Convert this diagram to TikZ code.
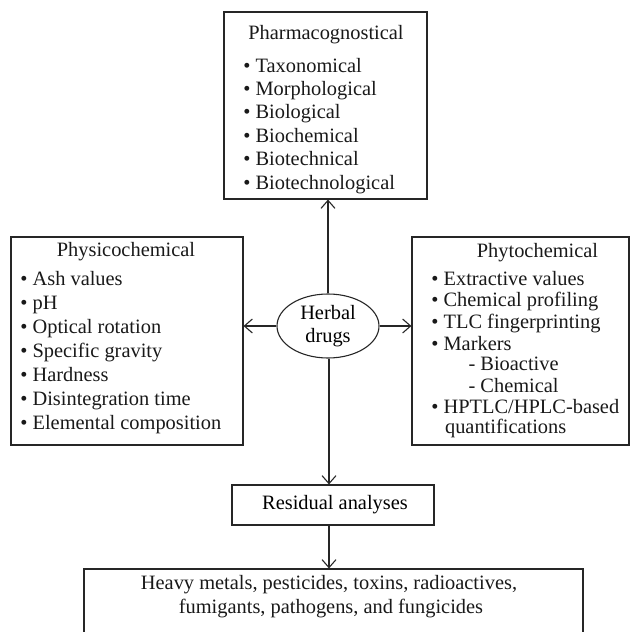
\documentclass[tikz,border=0pt]{standalone}
\usepackage{fontspec}
\setmainfont{Liberation Serif}
\usetikzlibrary{arrows.meta,shapes.geometric}
\begin{document}
\begin{tikzpicture}[x=1pt,y=-1pt,line width=1.1pt,
  boxshape/.style={draw=black!85,rectangle,inner sep=0pt},
  txt/.style={font=\fontsize{20.4}{23}\selectfont,inner sep=0pt,anchor=base west,text=black!90},
  ttl/.style={font=\fontsize{20.4}{23}\selectfont,inner sep=0pt,anchor=base,text=black!90},
  conn/.style={draw=black!85,-{Straight Barb[length=8pt,width=14pt]}}]
\useasboundingbox (0,0) rectangle (638,632);
% boxes
\node[boxshape,minimum width=203pt,minimum height=187pt] (T) at (325.5,105.5) {};
\node[boxshape,minimum width=232pt,minimum height=208pt] (L) at (127,341) {};
\node[boxshape,minimum width=217pt,minimum height=208pt] (R) at (520.5,341) {};
\node[draw=black!85,ellipse,inner sep=0pt,minimum width=102pt,minimum height=64pt,
  align=center,font=\fontsize{20.4}{23}\selectfont] (H) at (328,326) {Herbal\\drugs};
\node[boxshape,minimum width=202pt,minimum height=40pt,
  font=\fontsize{20.4}{23}\selectfont] (Res) at (333,505) {\hspace{4pt}Residual analyses};
\node[boxshape,minimum width=499pt,minimum height=80pt] (B) at (333.5,609) {};
% top box text
\node[ttl] (Tt) at (326,39) {Pharmacognostical};
\foreach \t [count=\i] in {Taxonomical,Morphological,Biological,Biochemical,Biotechnical,Biotechnological}
  \node[txt] (T\i) at (242.8,{72+23.4*(\i-1)}) {\textbullet\ \t};
% left box text
\node[ttl] (Lt) at (126,256.7) {Physicochemical};
\foreach \t [count=\i] in {Ash values,pH,Optical rotation,Specific gravity,Hardness,Disintegration time,Elemental composition}
  \node[txt] (L\i) at (19.8,{285+24.05*(\i-1)}) {\textbullet\ \t};
% right box text
\node[ttl] (Rt) at (537.5,257) {Phytochemical};
\node[txt] (R1) at (430.8,285) {\textbullet\ Extractive values};
\node[txt] (R2) at (430.8,306.8) {\textbullet\ Chemical profiling};
\node[txt] (R3) at (430.8,328.6) {\textbullet\ TLC fingerprinting};
\node[txt] (R4) at (430.8,350) {\textbullet\ Markers};
\node[txt] (R5) at (468,370.5) {- Bioactive};
\node[txt] (R6) at (468,392) {- Chemical};
\node[txt] (R7) at (430.8,413.5) {\textbullet\ HPTLC/HPLC-based};
\node[txt] (R8) at (444.5,433.5) {quantifications};
% bottom box text
\node[ttl] (B1) at (329,589) {Heavy metals, pesticides, toxins, radioactives,};
\node[ttl] (B2) at (331,613) {fumigants, pathogens, and fungicides};
% connectors
\draw[conn] (H.north) -- (H.north |- T.south);
\draw[conn] (H.west) -- (H.west -| L.east);
\draw[conn] (H.east) -- (H.east -| R.west);
\draw[conn] ([xshift=1pt]H.south) -- ([xshift=1pt]H.south |- Res.north);
\draw[conn] ([xshift=1pt]H.south |- Res.south) -- ([xshift=1pt]H.south |- B.north);
\end{tikzpicture}
\end{document}
